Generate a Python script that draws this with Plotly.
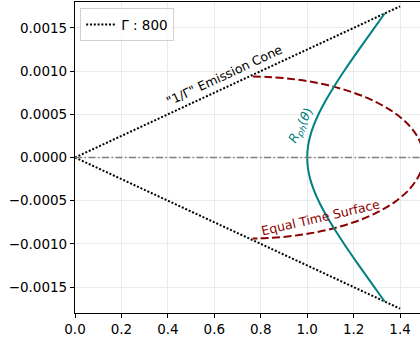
import plotly.graph_objects as go

# ---- data ----
gamma_label = "Γ : 800"
cone_x = [0.0, 1.4, None, 0.0, 1.4]
cone_y = [0.0, 0.00175, None, 0.0, -0.00175]

# photospheric radius R_ph(theta) (upper half, top -> axis)
rph_x_upper = [1.3333, 1.2700, 1.2133, 1.1633, 1.1200, 1.0833, 1.0533, 1.0300, 1.0133, 1.0033, 1.0000]
rph_y_upper = [0.0016667, 0.0014288, 0.0012133, 0.0010179, 0.00084, 0.0006771, 0.0005267, 0.0003863, 0.0002533, 0.0001254, 0.0]

# equal time surface (upper half, left end -> axis)
ets_x_upper = [0.7652, 0.8287, 0.9146, 1.0067, 1.1029, 1.2000, 1.2931, 1.3762, 1.4423, 1.4852, 1.5000]
ets_y_upper = [0.00093731, 0.00093232, 0.00091463, 0.00088087, 0.00082721, 0.00075, 0.00064655, 0.00051606, 0.00036058, 0.00018564, 0.0]

zero_line_y = 0.0

x_ticks = [0.0, 0.2, 0.4, 0.6, 0.8, 1.0, 1.2, 1.4]
y_ticks = [-0.0015, -0.0010, -0.0005, 0.0, 0.0005, 0.0010, 0.0015]
x_range = [0.0, 1.4857]
y_range = [-0.0018, 0.0018]

# build full closed curves (mirror in y)
rph_x = rph_x_upper + rph_x_upper[::-1][1:]
rph_y = rph_y_upper + [-v for v in rph_y_upper[::-1][1:]]
ets_x = ets_x_upper + ets_x_upper[::-1][1:]
ets_y = ets_y_upper + [-v for v in ets_y_upper[::-1][1:]]

FONT = "DejaVu Sans"

fig = go.Figure()

fig.add_shape(type="line", xref="paper", yref="y", x0=0, x1=1,
              y0=zero_line_y, y1=zero_line_y,
              line=dict(color="#808080", width=1.5, dash="7px,2.5px,1.5px,2.5px"),
              layer="above")

fig.add_trace(go.Scatter(x=cone_x, y=cone_y, mode="lines", name=gamma_label,
                         line=dict(color="black", width=2, dash="2px,1.8px"),
                         showlegend=True))
fig.add_trace(go.Scatter(x=ets_x, y=ets_y, mode="lines", showlegend=False,
                         line=dict(color="#8b0000", width=2, dash="8px,3.5px", shape="spline")))
fig.add_trace(go.Scatter(x=rph_x, y=rph_y, mode="lines", showlegend=False,
                         line=dict(color="#008080", width=2, shape="spline")))

fig.add_annotation(x=0.640, y=0.000955, xref="x", yref="y", text='"1/Γ" Emission Cone',
                   showarrow=False, textangle=-25, font=dict(family=FONT, size=12.5, color="black"))
fig.add_annotation(x=1.056, y=-0.000696, xref="x", yref="y", text="Equal Time Surface",
                   showarrow=False, textangle=-13, font=dict(family=FONT, size=12.5, color="#8b0000"))
fig.add_annotation(x=0.975, y=0.000365, xref="x", yref="y",
                   text="<i>R</i><sub><i>ph</i></sub>(<i>θ</i>)",
                   showarrow=False, textangle=-62, font=dict(family=FONT, size=12.5, color="#008080"))

axis_common = dict(showgrid=True, gridcolor="#ebebeb", gridwidth=1, zeroline=False,
                   showline=True, linecolor="black", linewidth=1.2,
                   ticks="outside", ticklen=4, tickwidth=1.2, tickcolor="black",
                   tickfont=dict(family=FONT, size=13.5, color="black"))

fig.update_xaxes(range=x_range, tickvals=x_ticks, ticktext=[f"{v:.1f}" for v in x_ticks],
                 mirror=True, **axis_common)
fig.update_yaxes(range=y_range, tickvals=y_ticks,
                 ticktext=[("\u2212" if v < 0 else "") + f"{abs(v):.4f}" for v in y_ticks],
                 mirror=False, **axis_common)

fig.update_layout(width=420, height=341, margin=dict(l=75, r=0, t=2, b=28),
                  plot_bgcolor="white", paper_bgcolor="white",
                  font=dict(family=FONT, size=13, color="black"),
                  legend=dict(x=0.015, y=0.98, xanchor="left", yanchor="top",
                              bgcolor="rgba(255,255,255,0.8)", bordercolor="#d0d0d0", borderwidth=1,
                              font=dict(family=FONT, size=13.5, color="black")))

fig.write_html("out.html")
